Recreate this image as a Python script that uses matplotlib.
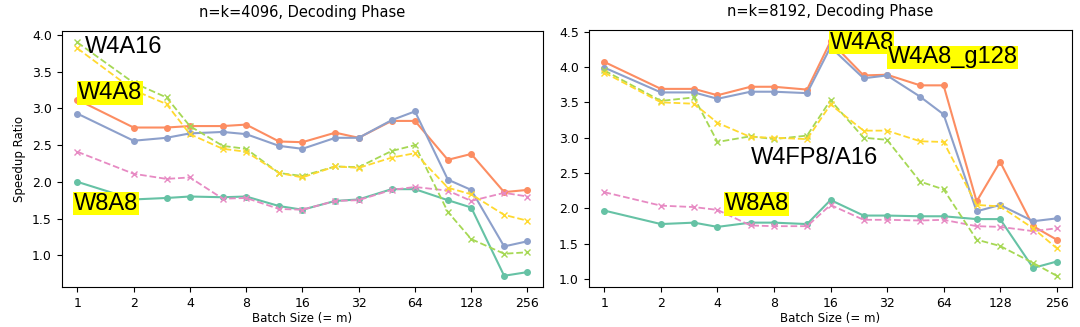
import numpy as np
import matplotlib
matplotlib.use("Agg")
import matplotlib.pyplot as plt

plt.rcParams['font.size'] = 9

batch = [1, 2, 3, 4, 6, 8, 12, 16, 24, 32, 48, 64, 96, 128, 192, 256]
xticks = [1, 2, 4, 8, 16, 32, 64, 128, 256]

# n=k=4096
w8a8_4096 = [2.00, 1.76, 1.78, 1.80, 1.79, 1.80, 1.67, 1.62, 1.74, 1.76, 1.90, 1.90, 1.75, 1.65, 0.72, 0.77]
w4a8_4096 = [3.12, 2.74, 2.74, 2.76, 2.76, 2.78, 2.55, 2.54, 2.67, 2.60, 2.83, 2.83, 2.30, 2.38, 1.86, 1.89]
w4a8g_4096 = [2.93, 2.56, 2.60, 2.66, 2.68, 2.65, 2.49, 2.45, 2.60, 2.60, 2.84, 2.96, 2.03, 1.89, 1.12, 1.19]
w8a8b_4096 = [2.41, 2.11, 2.04, 2.06, 1.77, 1.78, 1.63, 1.62, 1.74, 1.75, 1.89, 1.93, 1.88, 1.74, 1.85, 1.80]
w4a16_4096 = [3.90, 3.35, 3.15, 2.76, 2.49, 2.45, 2.12, 2.08, 2.21, 2.20, 2.42, 2.50, 1.59, 1.22, 1.02, 1.04]
w4fp8_4096 = [3.82, 3.25, 3.06, 2.65, 2.45, 2.41, 2.12, 2.06, 2.21, 2.19, 2.33, 2.39, 1.92, 1.83, 1.55, 1.47]

# n=k=8192
w8a8_8192 = [1.97, 1.78, 1.80, 1.74, 1.80, 1.80, 1.78, 2.12, 1.90, 1.90, 1.89, 1.89, 1.85, 1.85, 1.16, 1.25]
w4a8_8192 = [4.07, 3.69, 3.69, 3.60, 3.72, 3.72, 3.68, 4.36, 3.88, 3.89, 3.74, 3.74, 2.10, 2.66, 1.75, 1.56]
w4a8g_8192 = [3.99, 3.64, 3.64, 3.55, 3.65, 3.65, 3.63, 4.28, 3.84, 3.88, 3.58, 3.33, 1.96, 2.05, 1.82, 1.86]
w8a8b_8192 = [2.23, 2.04, 2.02, 1.98, 1.76, 1.75, 1.75, 2.05, 1.84, 1.84, 1.83, 1.84, 1.75, 1.74, 1.68, 1.72]
w4a16_8192 = [3.95, 3.52, 3.57, 2.94, 3.02, 2.98, 3.03, 3.53, 3.00, 2.97, 2.38, 2.27, 1.56, 1.47, 1.23, 1.05]
w4fp8_8192 = [3.92, 3.50, 3.48, 3.21, 3.01, 3.00, 2.98, 3.47, 3.10, 3.10, 2.95, 2.94, 2.05, 2.03, 1.72, 1.44]

c_teal = "#66c2a5"
c_orange = "#fc8d62"
c_blue = "#8da0cb"
c_pink = "#e78ac3"
c_lime = "#a6d854"
c_yellow = "#ffd92f"

fig = plt.figure(figsize=(10.8, 3.27), dpi=100)
ax1 = fig.add_axes([0.057, 0.121, 0.446, 0.785])
ax2 = fig.add_axes([0.545, 0.121, 0.448, 0.788])


def draw(ax, a, b, c, d, e, f):
    ax.plot(batch, a, color=c_teal, marker='o', markersize=4, lw=1.5)
    ax.plot(batch, b, color=c_orange, marker='o', markersize=4, lw=1.5)
    ax.plot(batch, c, color=c_blue, marker='o', markersize=4, lw=1.5)
    ax.plot(batch, d, color=c_pink, marker='x', markersize=4, lw=1.3, ls='--')
    ax.plot(batch, e, color=c_lime, marker='x', markersize=4, lw=1.3, ls='--')
    ax.plot(batch, f, color=c_yellow, marker='x', markersize=4, lw=1.3, ls='--')
    ax.set_xscale('log', base=2)
    ax.set_xticks(xticks)
    ax.set_xticklabels([str(t) for t in xticks])
    ax.minorticks_off()
    ax.set_xlim(2 ** -0.28, 2 ** 8.28)
    ax.set_xlabel("Batch Size (= m)", fontsize=8.5, labelpad=1)


draw(ax1, w8a8_4096, w4a8_4096, w4a8g_4096, w8a8b_4096, w4a16_4096, w4fp8_4096)
draw(ax2, w8a8_8192, w4a8_8192, w4a8g_8192, w8a8b_8192, w4a16_8192, w4fp8_8192)

ax1.set_title("n=k=4096, Decoding Phase", fontsize=10.5, pad=10)
ax2.set_title("n=k=8192, Decoding Phase", fontsize=10.5, pad=10)
ax1.set_ylabel("Speedup Ratio", fontsize=8.5)

lab = dict(fontsize=17, family='Liberation Sans', va='baseline')
box = dict(facecolor='#ffff00', edgecolor='none', pad=0.5)

ax1.text(1.10, 3.76, "W4A16", **lab)
ax1.text(1.01, 3.13, "W4A8", bbox=box, **lab)
ax1.text(0.96, 1.62, "W8A8", bbox=box, **lab)

ax2.text(15.8, 4.26, "W4A8", bbox=box, **lab)
ax2.text(32.2, 4.05, "W4A8_g128", bbox=box, **lab)
ax2.text(6.0, 2.63, "W4FP8/A16", **lab)
ax2.text(4.36, 1.98, "W8A8", bbox=box, **lab)

fig.savefig("out.png", dpi=100)
